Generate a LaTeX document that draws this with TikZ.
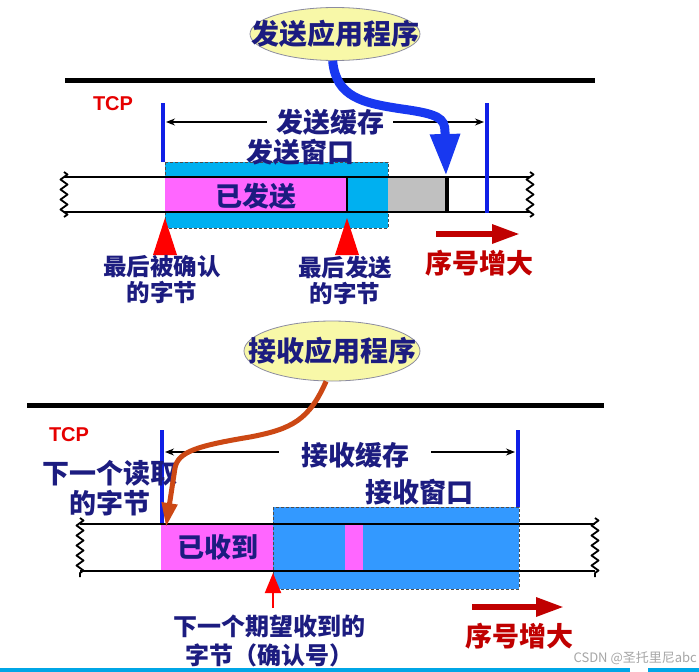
\documentclass[tikz,border=0pt]{standalone}
\usepackage{fontspec}
\setmainfont{Noto Sans CJK SC}
\newfontfamily\latinfont{Liberation Sans}
\usetikzlibrary{arrows.meta,decorations.pathmorphing,shapes.geometric}
\definecolor{navy}{RGB}{28,28,128}
\definecolor{lineblue}{RGB}{16,32,230}
\definecolor{arrowblue}{RGB}{24,56,240}
\definecolor{sendblue}{RGB}{0,176,240}
\definecolor{recvblue}{RGB}{51,153,255}
\definecolor{pinkfill}{RGB}{255,102,255}
\definecolor{grayfill}{RGB}{192,192,192}
\definecolor{darkred}{RGB}{192,0,0}
\definecolor{tcpred}{RGB}{230,0,0}
\definecolor{ellfill}{RGB}{248,248,168}
\definecolor{ellline}{RGB}{140,140,160}
\definecolor{brownarrow}{RGB}{204,72,20}
\definecolor{barcyan}{RGB}{0,166,230}
\tikzset{
  lab/.style={text=navy,font=\bfseries\fontsize{27}{30}\selectfont,inner sep=0pt,align=center},
  smalllab/.style={text=navy,font=\bfseries\fontsize{23.5}{26}\selectfont,inner sep=0pt,align=center},
  redlab/.style={text=darkred,font=\bfseries\fontsize{27}{30}\selectfont,inner sep=0pt},
  tcplab/.style={text=tcpred,font=\latinfont\bfseries\fontsize{20}{21}\selectfont,inner sep=0pt},
  appell/.style={ellipse,draw=ellline,line width=0.8pt,fill=ellfill,inner sep=0pt},
  apptext/.style={text=navy,font=\bfseries\fontsize{28}{30}\selectfont,inner sep=0pt},
  layerline/.style={line width=5pt,black},
  stripline/.style={line width=1.6pt,black},
  zig/.style={line width=1.8pt,line join=round,decorate,decoration={zigzag,segment length=10pt,amplitude=3.5pt}},
  bufline/.style={line width=3.5pt,lineblue},
  dimarrow/.style={line width=1.2pt,{Stealth[length=9pt,width=7pt]}-{Stealth[length=9pt,width=7pt]}},
  winborder/.style={line width=0.7pt,dash pattern=on 3pt off 2pt,black!70},
  seqarrow/.style={line width=6pt,darkred,-{Triangle[length=28pt,width=18pt]}},
}
\begin{document}
\begin{tikzpicture}[x=1pt,y=-1pt]
\useasboundingbox (0,0) rectangle (699,672);
\fill[white] (0,0) rectangle (699,672);

% ================= SEND SIDE =================
\draw[layerline] (65,80) -- (595,80);
\node[tcplab] (tcp1) at (113,104) {TCP};

% window and strip
\fill[sendblue] (165,162) rectangle (388,228);
\draw[winborder] (165,162) rectangle (388,228);
\fill[pinkfill] (165,177) rectangle (347,212);
\fill[grayfill] (388,177) rectangle (446,212);
\draw[stripline] (64,177) -- (530,177);
\draw[stripline] (64,212) -- (530,212);
\draw[line width=1.3pt] (347,177) -- (347,212);
\draw[line width=3.5pt] (447,177) -- (447,212);
\draw[zig] (64,172) -- (64,217);
\draw[zig] (530,172) -- (530,217);
\node[lab] (sent) at (256,196) {已发送};

% buffer bounds
\draw[bufline] (163,103) -- (163,162);
\draw[bufline] (487,103) -- (487,213);
\coordinate (sbL) at (166,122);
\coordinate (sbR) at (484,122);
\draw[dimarrow] (sbL) -- (sbR);
\node[lab,fill=white,inner xsep=9pt,inner ysep=2pt] (sendbuf) at (330,122) {发送缓存};
\node[lab] (sendwin) at (300,152) {发送窗口};

% markers
\fill[red] (165,218) -- (177,255) -- (153,255) -- cycle;
\fill[red] (347,218) -- (359,255) -- (335,255) -- cycle;
\node[smalllab] (lastack) at (162,280) {最后被确认\\的字节};
\node[smalllab] (lastsent) at (345,280) {最后发送\\的字节};

% sequence arrow
\coordinate (sq1a) at (436,234);
\coordinate (sq1b) at (520,234);
\draw[seqarrow] (sq1a) -- (sq1b);
\node[redlab] (seq1) at (479,263) {序号增大};

% application
\node[appell,minimum width=170pt,minimum height=53pt] (sendapp) at (335,34) {};
\coordinate (sendtip) at (446,176);
\draw[arrowblue,line width=9pt,-{Triangle[length=42pt,width=28pt]}]
  (sendapp.265) .. controls (336,97) and (362,103) .. (402,109)
  .. controls (438,114) and (445,118) .. (445,132) -- (sendtip);
\node[apptext] at (sendapp) {发送应用程序};

% ================= RECEIVE SIDE =================
\draw[layerline] (27,405) -- (604,405);
\node[tcplab] (tcp2) at (69,435) {TCP};

\fill[recvblue] (273,507) rectangle (519,589);
\draw[winborder] (273,507) rectangle (519,589);
\fill[pinkfill] (161,524) rectangle (273,571);
\fill[pinkfill] (345,524) rectangle (363,571);
\draw[stripline] (80,524) -- (595,524);
\draw[stripline] (80,571) -- (595,571);
\draw[zig] (80,518) -- (80,577);
\draw[zig] (595,518) -- (595,577);
\node[lab] (recvd) at (218,547) {已收到};

\draw[bufline] (162,430) -- (162,523);
\draw[bufline] (518,430) -- (518,507);
\coordinate (rbL) at (165,452);
\coordinate (rbR) at (515,452);
\draw[dimarrow] (rbL) -- (rbR);
\node[lab,fill=white,inner xsep=22pt,inner ysep=2pt] (recvbuf) at (355,455) {接收缓存};
\node[lab] (recvwin) at (419,492) {接收窗口};
\node[lab,font=\bfseries\fontsize{27}{29.5}\selectfont] (nextread) at (110,488) {下一个读取\\的字节};

% next expected marker
\coordinate (ackbase) at (273,608);
\coordinate (acktip) at (273,573);
\draw[red,line width=2pt,-{Triangle[length=20pt,width=16pt]}] (ackbase) -- (acktip);
\node[smalllab,font=\bfseries\fontsize{24}{29}\selectfont] (nextexp) at (269,641) {下一个期望收到的\\字节（确认号）};

\coordinate (sq2a) at (472,607);
\coordinate (sq2b) at (564,607);
\draw[seqarrow] (sq2a) -- (sq2b);
\node[redlab] (seq2) at (519,636) {序号增大};

\node[appell,minimum width=176pt,minimum height=60pt] (recvapp) at (332,351) {};
\coordinate (readtip) at (166,527);
\draw[brownarrow,line width=5pt,-{Triangle[length=24pt,width=15pt]}]
  (recvapp.259) .. controls (309,420) and (292,429) .. (250,437)
  .. controls (196,446) and (178,452) .. (175,468) -- (readtip);
\node[apptext] at (recvapp) {接收应用程序};

% ================= footer =================
\fill[barcyan] (0,668) rectangle (630,672);
\fill[barcyan] (648,668) rectangle (699,672);
\node[anchor=east,text=black!35,font=\fontsize{13}{13}\selectfont,inner sep=0pt] (wm) at (697,658) {CSDN @圣托里尼abc};
\end{tikzpicture}
\end{document}
